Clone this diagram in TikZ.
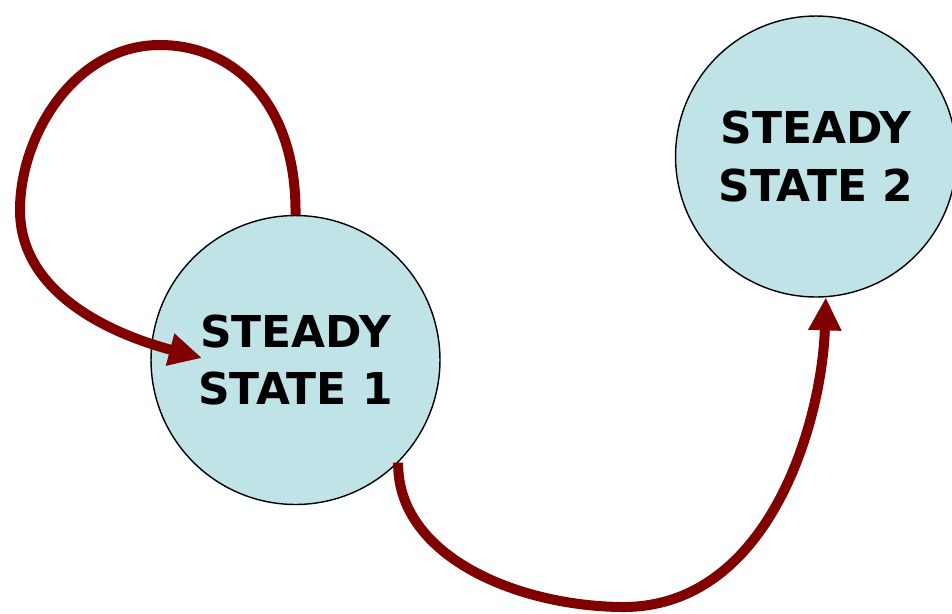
\documentclass[tikz,border=0pt]{standalone}
\usepackage{fontspec}
\newfontfamily\statefont{DejaVu Sans}
\usetikzlibrary{arrows.meta}
\usetikzlibrary{calc}

\definecolor{statefill}{RGB}{192,227,231}
\definecolor{arrowred}{RGB}{128,0,0}

\begin{document}
\begin{tikzpicture}[x=0.02cm, y=-0.02cm,
    state/.style={circle, draw=black, line width=0.8pt, fill=statefill, inner sep=0pt,
      align=center, font=\statefont\bfseries\fontsize{25}{33}\selectfont},
    trans/.style={draw=arrowred, line width=0.2cm,
      -{Triangle[length=0.66cm, width=0.62cm]}}]
      \useasboundingbox (0, 0) rectangle (952, 613);

      \node[state, minimum size=5.78cm] (s1) at (295.5, 360) {STEADY\\STATE 1};
      \node[state, minimum size=5.62cm] (s2) at (816, 156.5) {STEADY\\STATE 2};

      \coordinate (loopend) at (202, 358);

      % self loop on the first state
      \draw[trans] (s1.north) .. controls (297, 105) and (235, 45) .. (160, 45)
        .. controls (75, 45) and (20, 135) .. (20, 210)
        .. controls (20, 295) and (115, 335) .. (loopend);

      % from the first state to the second
      \draw[trans] (s1.-45) .. controls (397, 555) and (515, 606) .. (622, 607)
        .. controls (770, 608) and (822, 420) .. (s2.-86);
    \end{tikzpicture}
\end{document}
